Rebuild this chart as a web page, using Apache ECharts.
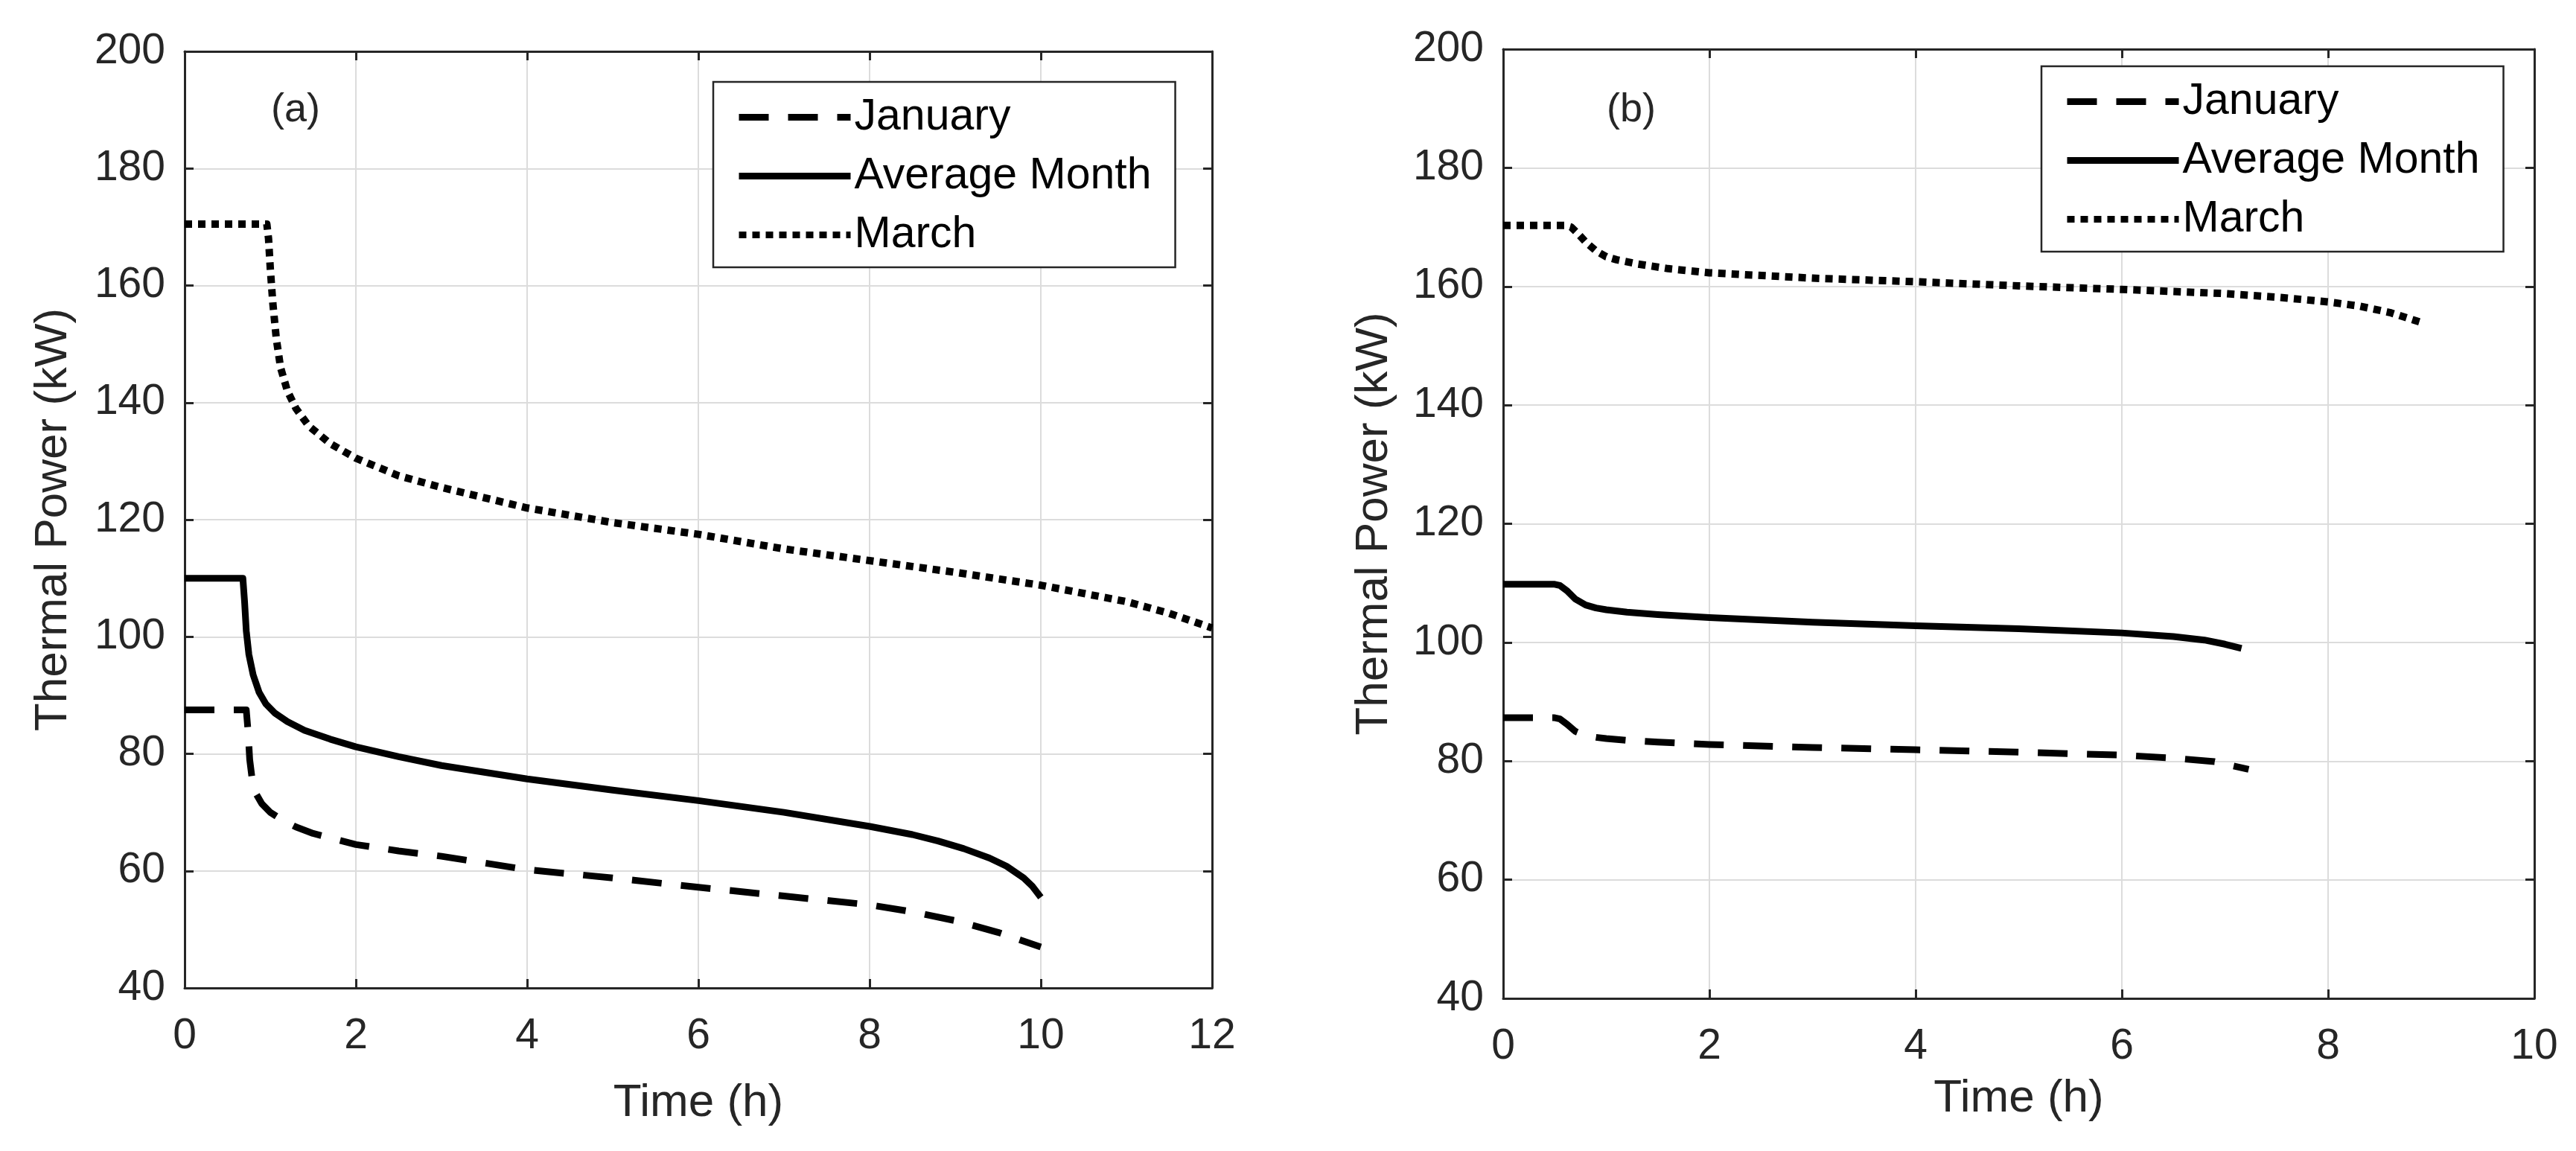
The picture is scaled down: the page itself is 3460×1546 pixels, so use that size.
<!DOCTYPE html>
<html>
<head>
<meta charset="utf-8">
<script src="https://cdn.jsdelivr.net/npm/echarts@6/dist/echarts.min.js"></script>
<style>
html,body{margin:0;padding:0;background:#fff;}
#chart{width:3460px;height:1546px;}
</style>
</head>
<body>
<div id="chart"></div>
<script>
// ---- Data ----
var seriesNames = ['January', 'Average Month', 'March'];
var panelLabels = ['(a)', '(b)'];
var xTicksA = [0, 2, 4, 6, 8, 10, 12];
var xTicksB = [0, 2, 4, 6, 8, 10];
var yTicks = [40, 60, 80, 100, 120, 140, 160, 180, 200];

// Panel (a)
var janA_t = [0, 0.72, 0.74, 0.76, 0.79, 0.83, 0.9, 1.0, 1.15, 1.3, 1.5, 2, 2.5, 3, 4, 5, 6, 7, 8, 8.5, 9, 9.5, 10];
var janA_p = [87.5, 87.5, 84, 79, 75.5, 73.3, 71.5, 70, 68.6, 67.5, 66.4, 64.5, 63.4, 62.5, 60.2, 58.8, 57.2, 55.7, 54.2, 53.0, 51.5, 49.5, 47];
var avgA_t = [0, 0.68, 0.7, 0.72, 0.75, 0.8, 0.87, 0.95, 1.05, 1.2, 1.4, 1.7, 2, 2.5, 3, 4, 5, 6, 7, 8, 8.5, 8.8, 9.1, 9.4, 9.6, 9.8, 9.9, 10];
var avgA_p = [110, 110, 106, 101, 97, 93.5, 90.5, 88.5, 87, 85.5, 84, 82.5, 81.2, 79.5, 78, 75.7, 73.8, 72, 70, 67.6, 66.2, 65.1, 63.8, 62.2, 60.8, 58.8, 57.4, 55.5];
var marA_t = [0, 0.96, 0.98, 1.0, 1.03, 1.07, 1.12, 1.2, 1.3, 1.45, 1.7, 2, 2.5, 3, 4, 5, 6, 7, 8, 9, 10, 11, 11.5, 12];
var marA_p = [170.5, 170.5, 168, 163, 157, 151, 146, 142, 139, 136, 133, 130.5, 127.5, 125.5, 122, 119.5, 117.5, 115, 113, 111, 108.8, 106, 104, 101.5];

// Panel (b)
var janB_t = [0, 0.5, 0.55, 0.62, 0.7, 0.8, 0.9, 1.0, 1.2, 1.5, 2, 3, 4, 5, 6, 6.5, 6.9, 7.23];
var janB_p = [87.3, 87.3, 87.1, 86.2, 85.0, 84.3, 84.0, 83.8, 83.5, 83.2, 82.8, 82.3, 81.9, 81.5, 81.0, 80.5, 79.9, 78.6];
var avgB_t = [0, 0.5, 0.55, 0.62, 0.7, 0.8, 0.9, 1.0, 1.2, 1.5, 2, 3, 4, 5, 6, 6.5, 6.8, 7.0, 7.16];
var avgB_p = [109.8, 109.8, 109.6, 108.7, 107.3, 106.3, 105.8, 105.5, 105.1, 104.7, 104.2, 103.4, 102.8, 102.3, 101.6, 101.0, 100.4, 99.7, 99.0];
var marB_t = [0, 0.6, 0.66, 0.72, 0.8, 0.9, 1.0, 1.1, 1.3, 1.6, 2, 3, 4, 5, 6, 7, 7.5, 8, 8.3, 8.6, 8.93];
var marB_p = [170.3, 170.3, 170, 169, 167.5, 166, 165, 164.5, 163.8, 163, 162.3, 161.4, 160.8, 160.1, 159.5, 158.8, 158.2, 157.4, 156.7, 155.6, 153.8];

function pairs(t, p) { return t.map(function (v, i) { return [v, p[i]]; }); }

var TXT = '#262626';
var FONT = 'Liberation Sans';
var styles = [
  { type: [40, 26], width: 9 },
  { type: 'solid', width: 9 },
  { type: [10, 8], width: 10 }
];

var grids = [
  { left: 248, top: 69, width: 1380, height: 1258 },
  { left: 2019, top: 66, width: 1385, height: 1275 }
];
var xMax = [12, 10];
var xNameGap = [124, 104];
var yNameGap = [145, 142];

var xAxes = [], yAxes = [];
grids.forEach(function (g, gi) {
  xAxes.push({
    type: 'value', gridIndex: gi, position: 'bottom', min: 0, max: xMax[gi], interval: 2,
    name: 'Time (h)', nameLocation: 'middle', nameGap: xNameGap[gi],
    nameTextStyle: { fontFamily: FONT, fontSize: 62, color: TXT },
    axisLine: { show: true, onZero: false, lineStyle: { color: TXT, width: 3 } },
    axisTick: { show: true, inside: true, length: 12, lineStyle: { color: TXT, width: 3 } },
    axisLabel: { fontFamily: FONT, fontSize: 57, color: TXT, margin: 37 },
    splitLine: { show: true, showMinLine: false, showMaxLine: false, lineStyle: { color: '#dcdcdc', width: 2 } }
  });
  xAxes.push({
    type: 'value', gridIndex: gi, position: 'top', min: 0, max: xMax[gi], interval: 2,
    axisLine: { show: true, onZero: false, lineStyle: { color: TXT, width: 3 } },
    axisTick: { show: true, inside: true, length: 12, lineStyle: { color: TXT, width: 3 } },
    axisLabel: { show: false }, splitLine: { show: false }
  });
  yAxes.push({
    type: 'value', gridIndex: gi, position: 'left', min: 40, max: 200, interval: 20,
    name: 'Thermal Power (kW)', nameLocation: 'middle', nameGap: yNameGap[gi], nameRotate: 90,
    nameTextStyle: { fontFamily: FONT, fontSize: 62, color: TXT },
    axisLine: { show: true, onZero: false, lineStyle: { color: TXT, width: 3 } },
    axisTick: { show: true, inside: true, length: 12, lineStyle: { color: TXT, width: 3 } },
    axisLabel: { fontFamily: FONT, fontSize: 57, color: TXT, margin: 26 },
    splitLine: { show: true, showMinLine: false, showMaxLine: false, lineStyle: { color: '#dcdcdc', width: 2 } }
  });
  yAxes.push({
    type: 'value', gridIndex: gi, position: 'right', min: 40, max: 200, interval: 20,
    axisLine: { show: true, onZero: false, lineStyle: { color: TXT, width: 3 } },
    axisTick: { show: true, inside: true, length: 12, lineStyle: { color: TXT, width: 3 } },
    axisLabel: { show: false }, splitLine: { show: false }
  });
});

var dataSets = [
  [pairs(janA_t, janA_p), pairs(avgA_t, avgA_p), pairs(marA_t, marA_p)],
  [pairs(janB_t, janB_p), pairs(avgB_t, avgB_p), pairs(marB_t, marB_p)]
];

var series = [];
dataSets.forEach(function (set, gi) {
  set.forEach(function (d, si) {
    series.push({
      name: seriesNames[si], type: 'line', xAxisIndex: gi * 2, yAxisIndex: gi * 2,
      data: d, showSymbol: false, symbol: 'none', smooth: false, z: 2,
      lineStyle: { color: '#000', width: styles[si].width, type: styles[si].type, cap: 'butt', join: 'round' },
      itemStyle: { color: '#000' },
      emphasis: { disabled: true }, animation: false
    });
  });
});

var legendPos = [
  { left: 958, top: 110 },
  { left: 2742, top: 89 }
];
var legends = legendPos.map(function (p) {
  return {
    orient: 'vertical', left: p.left, top: p.top,
    data: seriesNames.slice(),
    itemWidth: 150, itemHeight: 20, itemGap: 20,
    padding: [18, 32, 14, 30],
    backgroundColor: '#fff',
    borderColor: TXT, borderWidth: 2.5, borderRadius: 0,
    itemStyle: { opacity: 0, borderWidth: 0 },
    lineStyle: { width: 9, color: '#000' },
    textStyle: { fontFamily: FONT, fontSize: 59, color: '#000' },
    selectedMode: false
  };
});

var chart = echarts.init(document.getElementById('chart'), null, { renderer: 'canvas' });
chart.setOption({
  backgroundColor: '#fff',
  animation: false,
  grid: grids.map(function (g) { return Object.assign({ containLabel: false }, g); }),
  xAxis: xAxes,
  yAxis: yAxes,
  legend: legends,
  series: series,
  graphic: [
    { type: 'text', left: 399 - 35, top: 153 - 32, style: { text: panelLabels[0], font: '54px "Liberation Sans"', fill: TXT } },
    { type: 'text', left: 2193 - 35, top: 153 - 32, style: { text: panelLabels[1], font: '54px "Liberation Sans"', fill: TXT } }
  ]
});
</script>
</body>
</html>
